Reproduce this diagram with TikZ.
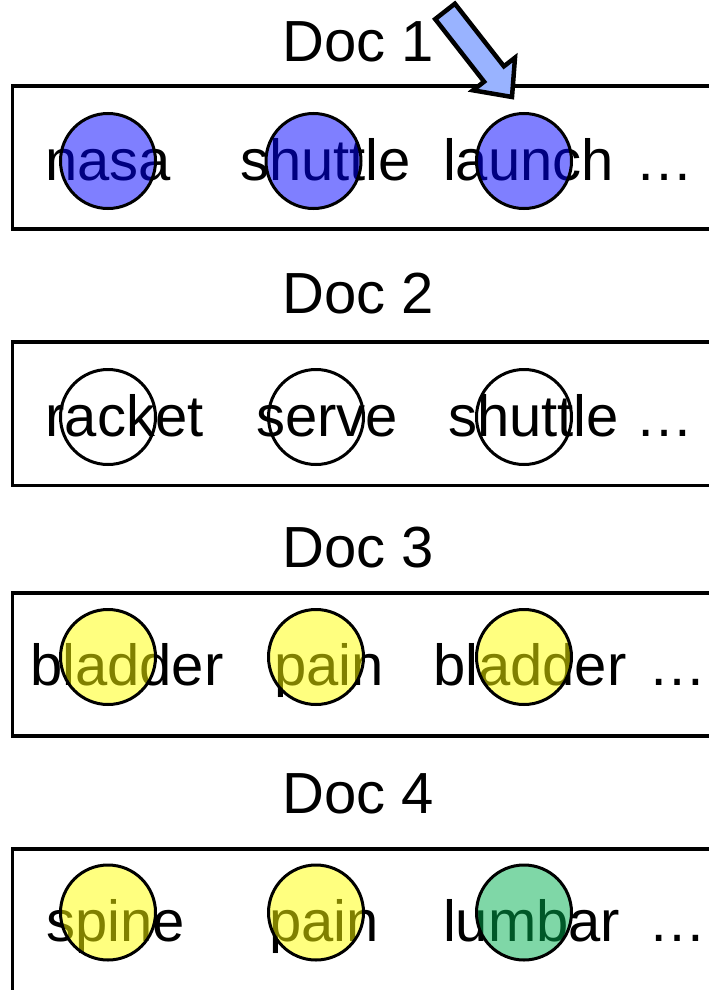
\documentclass[tikz,border=0pt]{standalone}
\usepackage{fontspec}
\setmainfont{Liberation Sans}
\definecolor{termblue}{rgb}{0,0,1}
\definecolor{termyellow}{rgb}{1,1,0}
\definecolor{termgreen}{rgb}{0,0.69,0.314}
\definecolor{arrowblue}{RGB}{153,179,255}
\begin{document}
\begin{tikzpicture}[x=1pt,y=-1pt,
  word/.style={anchor=base west,inner sep=0pt,outer sep=0pt,font=\fontsize{58}{70}\selectfont},
  heading/.style={anchor=base,inner sep=0pt,outer sep=0pt,font=\fontsize{58}{70}\selectfont},
  docbox/.style={draw=black,line width=3.3pt},
  term/.style={circle,draw=black,line width=3pt,minimum size=95pt,inner sep=0pt},
  termfill/.style={term,fill=#1,fill opacity=0.5,draw opacity=1},
  bigarrow/.style={draw=black,line width=4.5pt,line join=miter,fill=arrowblue}]
\useasboundingbox (0,0) rectangle (709,990);
\clip (0,0) rectangle (709,990);

% boxes
\draw[docbox] (12.3,86) rectangle (730,229);
\draw[docbox] (12.3,342) rectangle (730,485.7);
\draw[docbox] (12.3,593) rectangle (730,736);
\draw[docbox] (730,849) -- (12.3,849) -- (12.3,1010);

% headings
\node[heading] (h1) at (358,62) {Doc 1};
\node[heading] (h2) at (358,313.3) {Doc 2};
\node[heading] (h3) at (358,567.3) {Doc 3};
\node[heading] (h4) at (358,813.3) {Doc 4};

% words row 1
\node[word] (w11) at (45.5,180) {nasa};
\node[word] (w12) at (240,180) {shuttle};
\node[word] (w13) at (443,180) {launch};
\node[word] (w14) at (635,180) {…};
% row 2
\node[word] (w21) at (45.5,436) {racket};
\node[word] (w22) at (256,436) {serve};
\node[word] (w23) at (448,436) {shuttle};
\node[word] (w24) at (635,436) {…};
% row 3
\node[word] (w31) at (30,685.5) {bladder};
\node[word] (w32) at (274.5,685.5) {pain};
\node[word] (w33) at (433,685.5) {bladder};
\node[word] (w34) at (648,685.5) {…};
% row 4
\node[word] (w41) at (46.5,941.5) {spine};
\node[word] (w42) at (269,941.5) {pain};
\node[word] (w43) at (443,941.5) {lumbar};
\node[word] (w44) at (648,941.5) {…};

% circles
\node[termfill=termblue] (c11) at (108,161) {};
\node[termfill=termblue] (c12) at (313.5,161) {};
\node[termfill=termblue] (c13) at (524,161) {};
\node[term] (c21) at (108,417) {};
\node[term] (c22) at (316,417) {};
\node[term] (c23) at (524,417) {};
\node[termfill=termyellow] (c31) at (108,657) {};
\node[termfill=termyellow] (c32) at (316,657) {};
\node[termfill=termyellow] (c33) at (524,657) {};
\node[termfill=termyellow] (c41) at (108,912.5) {};
\node[termfill=termyellow] (c42) at (316,912.5) {};
\node[termfill=termgreen] (c43) at (524,912.5) {};

% block arrow
\draw[bigarrow] (435.2,19.1) -- (454.9,3.7) -- (503.9,66.3) -- (515,57.7)
  -- (512,97) -- (473,90.3) -- (484.1,81.7) -- cycle;
\end{tikzpicture}
\end{document}
